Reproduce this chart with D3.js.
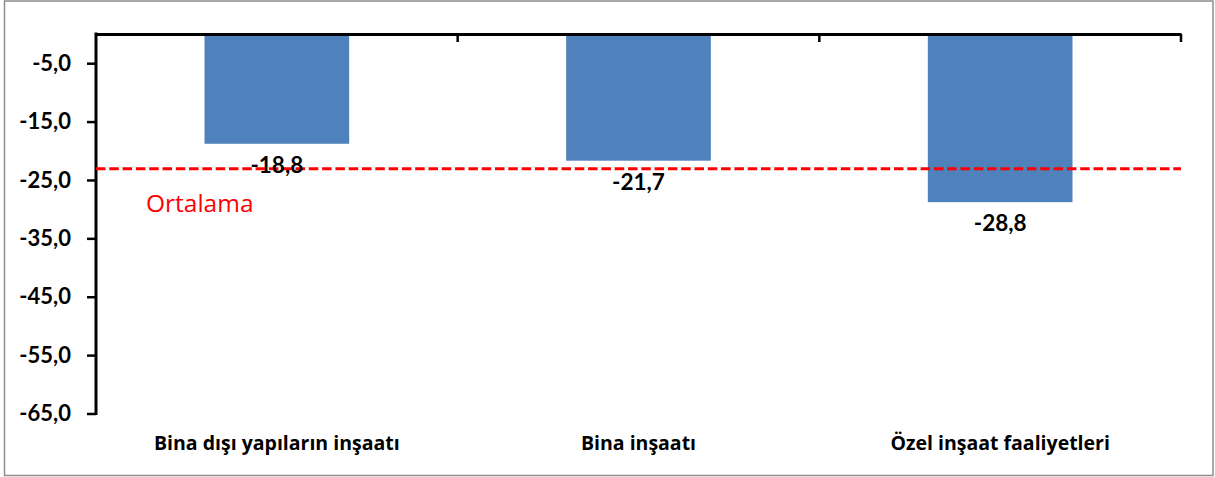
<!DOCTYPE html>
<html>
<head>
<meta charset="utf-8">
<script src="https://cdn.jsdelivr.net/npm/d3@7/dist/d3.min.js"></script>
<style>
  html, body { margin: 0; padding: 0; background: #fff; }
  svg { display: block; }
</style>
</head>
<body>
<svg id="chart" width="1215" height="477"></svg>
<script>
// ---- data ----
const categories = ["Bina dışı yapıların inşaatı", "Bina inşaatı", "Özel inşaat faaliyetleri"];
const values = [-18.8, -21.7, -28.8];
const yTicks = [-5, -15, -25, -35, -45, -55, -65];
const yDomain = [-65, 0];
const averageLabel = "Ortalama";

// ---- layout ----
const W = 1215, H = 477;
const plot = { left: 96, right: 1181, top: 34, bottom: 413.5 };
const fmt = v => d3.format(".1f")(v).replace(".", ",").replace("−", "-");

const svg = d3.select("#chart");

// outer border
svg.append("rect")
  .attr("x", 4.5).attr("y", 1).attr("width", 1208.5).attr("height", 474.5)
  .attr("fill", "#fff").attr("stroke", "#8c8c8c").attr("stroke-width", 1.5);

const x = d3.scaleBand().domain(categories)
  .range([plot.left, plot.right]).paddingInner(0.6).paddingOuter(0.3);
const xCat = d3.scaleBand().domain(categories).range([plot.left, plot.right]);
const y = d3.scaleLinear().domain(yDomain).range([plot.bottom, plot.top]);

// bars
svg.append("g").selectAll("rect").data(values).join("rect")
  .attr("x", (d, i) => x(categories[i]))
  .attr("width", x.bandwidth())
  .attr("y", y(0))
  .attr("height", d => y(d) - y(0))
  .attr("fill", "#4F81BD");

// y axis
const yAxis = svg.append("g")
  .attr("transform", `translate(${plot.left},0)`)
  .call(d3.axisLeft(y).tickValues(yTicks).tickFormat(fmt).tickSize(9).tickPadding(16).tickSizeOuter(0));
yAxis.select(".domain").attr("stroke", "#000").attr("stroke-width", 3)
  .attr("d", `M0,${y(-65) + 1.5}V${plot.top - 1.5}`);
yAxis.selectAll(".tick line").attr("stroke", "#000").attr("stroke-width", 2.5);
yAxis.selectAll(".tick text")
  .attr("fill", "#000")
  .style("font-family", "Lato, 'Open Sans', sans-serif")
  .style("font-weight", "bold")
  .style("font-size", "22px");

// top x axis line (at 0) with ticks between categories
const xAxis = svg.append("g")
  .attr("transform", `translate(0,${y(0)})`)
  .call(d3.axisBottom(xCat).tickValues([]).tickSizeOuter(0));
xAxis.select(".domain").attr("stroke", "#000").attr("stroke-width", 3);
const boundaries = categories.map(c => xCat(c) + xCat.bandwidth());
xAxis.selectAll("line.sep").data(boundaries).join("line")
  .attr("class", "sep")
  .attr("x1", d => d).attr("x2", d => d)
  .attr("y1", 0).attr("y2", 8)
  .attr("stroke", "#000").attr("stroke-width", 2.5);

// category labels at bottom
svg.append("g").selectAll("text").data(categories).join("text")
  .attr("x", d => xCat(d) + xCat.bandwidth() / 2)
  .attr("y", 450)
  .attr("text-anchor", "middle")
  .style("font-family", "'Open Sans', Lato, sans-serif")
  .style("font-weight", "bold")
  .style("font-size", "19.5px")
  .attr("fill", "#000")
  .text(d => d);

// average line
const avg = d3.mean(values);
svg.append("line")
  .attr("x1", plot.left).attr("x2", plot.right)
  .attr("y1", y(avg)).attr("y2", y(avg))
  .attr("stroke", "#FF0000").attr("stroke-width", 3)
  .attr("stroke-dasharray", "9.5,3.8");

svg.append("text")
  .attr("x", plot.left + 50)
  .attr("y", y(avg) + 43)
  .attr("fill", "#FF0000")
  .style("font-family", "'Open Sans', Lato, sans-serif")
  .style("font-size", "24.5px")
  .text(averageLabel);

// data labels
svg.append("g").selectAll("text").data(values).join("text")
  .attr("x", (d, i) => x(categories[i]) + x.bandwidth() / 2)
  .attr("y", d => y(d) + 29)
  .attr("text-anchor", "middle")
  .style("font-family", "Lato, 'Open Sans', sans-serif")
  .style("font-weight", "bold")
  .style("font-size", "22.5px")
  .attr("fill", "#000")
  .text(d => fmt(d));
</script>
</body>
</html>
